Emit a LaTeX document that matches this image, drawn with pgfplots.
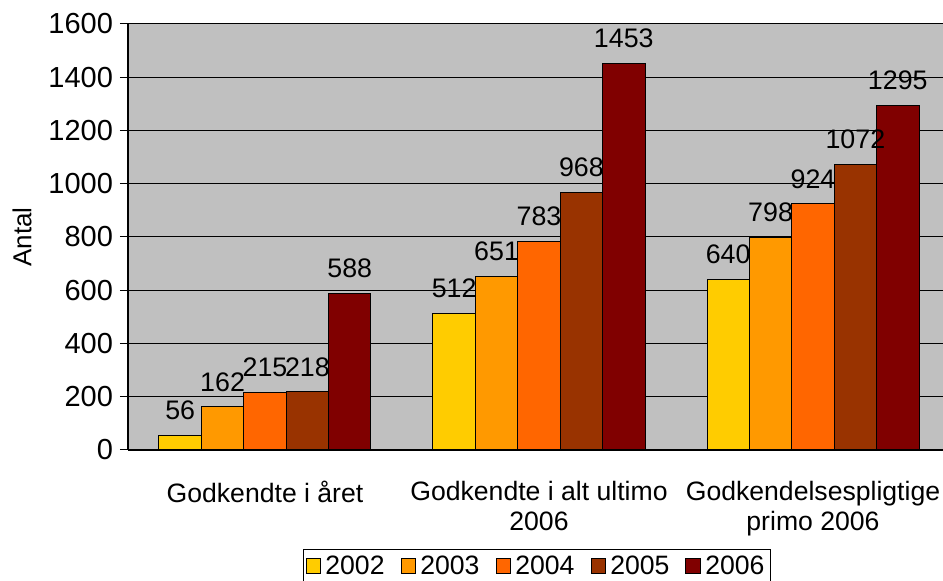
\documentclass[border=0pt]{standalone}
\usepackage{pgfplots}
\pgfplotsset{compat=1.18}
\usepackage{fontspec}
\setmainfont{Liberation Sans}
\definecolor{cA}{HTML}{FFCC00}
\definecolor{cB}{HTML}{FF9900}
\definecolor{cC}{HTML}{FF6600}
\definecolor{cD}{HTML}{993300}
\definecolor{cE}{HTML}{800000}
\definecolor{bg}{HTML}{C0C0C0}
\newcommand{\ff}{\fontsize{13}{15}\selectfont}
\begin{document}
\begin{tikzpicture}
\begin{axis}[
  at={(0,0)}, anchor=south west,
  width=411pt, height=213pt, scale only axis,
  font=\ff,
  /pgf/number format/assume math mode=true,
  /pgf/number format/1000 sep={},
  ybar=0pt, bar width=21.2pt,
  xmin=-0.5, xmax=2.5, ymin=0, ymax=1600,
  ytick={0,200,...,1600},
  yticklabel style={font=\fontsize{14.5}{16}\selectfont},
  xtick={0,1,2},
  xticklabels={Godkendte i året, Godkendte i alt ultimo\\2006, Godkendelsespligtige\\primo 2006},
  xticklabel style={align=center, yshift=-8pt, font=\fontsize{13.3}{15}\selectfont},
  extra x ticks={-0.5,0.5,1.5,2.5},
  extra x tick labels={},
  extra x tick style={major tick length=7pt, tick style={draw=black, line width=0.5pt}},
  x tick style={draw=none},
  tick align=outside,
  major tick length=4pt,
  y tick style={draw=black, line width=0.5pt},
  axis x line*=bottom, axis y line*=left,
  axis line style={-, line width=0.6pt, black},
  axis background/.style={fill=bg, draw=gray, line width=0.5pt},
  ymajorgrids, grid style={black, line width=0.5pt},
  ylabel={Antal},
  ylabel style={at={(axis description cs:-0.129,0.5)}, anchor=center, font=\ff},
  nodes near coords,
  nodes near coords style={font=\fontsize{13.4}{15}\selectfont, anchor=south, inner sep=0pt, yshift=7.5pt},
  every axis plot/.append style={draw=black, line width=0.5pt},
  legend style={at={(0.4976,-0.2324)}, anchor=north, legend columns=5, draw=black, line width=0.5pt,
     font=\fontsize{13.3}{15}\selectfont, inner sep=1pt,
     /tikz/every even column/.append style={column sep=6pt}},
  legend image code/.code={\draw[#1, line width=0.5pt] (0pt,-3.7pt) rectangle (7.4pt,3.7pt);},
]
\addplot[fill=cA] coordinates {(0,56) (1,512) (2,640)};
\addplot[fill=cB] coordinates {(0,162) (1,651) (2,798)};
\addplot[fill=cC] coordinates {(0,215) (1,783) (2,924)};
\addplot[fill=cD] coordinates {(0,218) (1,968) (2,1072)};
\addplot[fill=cE] coordinates {(0,588) (1,1453) (2,1295)};
\legend{2002,2003,2004,2005,2006}
\end{axis}
\pgfresetboundingbox
\path[use as bounding box] (-64pt,-65.5pt) rectangle (407.5pt,225pt);
\end{tikzpicture}
\end{document}
